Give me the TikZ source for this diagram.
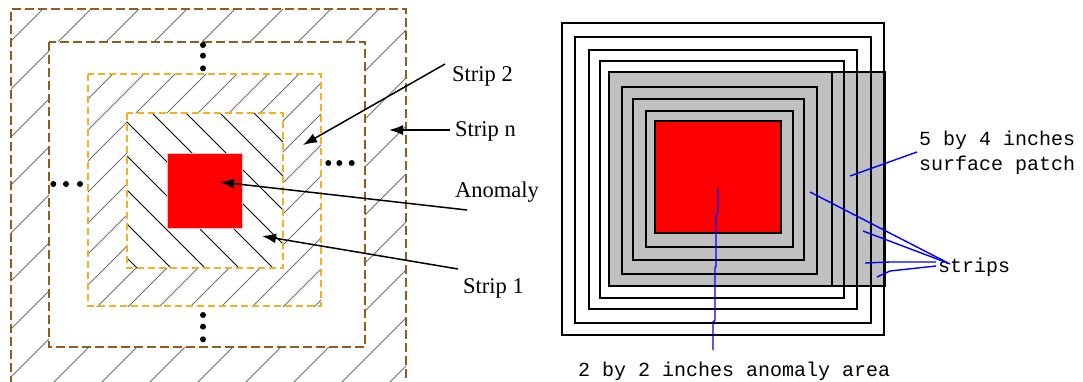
\documentclass[tikz,border=0pt]{standalone}
\usepackage{fontspec}
\setmainfont{Liberation Serif}
\setmonofont{Liberation Mono}
\usetikzlibrary{arrows.meta}
\definecolor{brownline}{HTML}{945A1E}
\definecolor{orangeline}{HTML}{F2B21E}
\definecolor{patchgray}{HTML}{C0C0C0}
\definecolor{hatchgray}{HTML}{707070}
\begin{document}
\begin{tikzpicture}[x=1pt,y=-1pt,
 brownbox/.style={draw=brownline, line width=2pt, dash pattern=on 9pt off 4pt},
 orangebox/.style={draw=orangeline, line width=2.2pt, dash pattern=on 7pt off 4pt},
 hatchA/.style={hatchgray, line width=0.8pt},
 hatchB/.style={black, line width=1pt},
 arr/.style={line width=1.5pt, -{Latex[length=14pt,width=10pt]}},
 lbl/.style={font=\fontsize{22.5}{26}\selectfont, inner sep=0pt, anchor=base west},
 mono/.style={font=\ttfamily\fontsize{20}{24}\selectfont, inner sep=0pt, anchor=base west},
 blueptr/.style={draw=blue, line width=1.4pt},
 frame/.style={draw=black, line width=1.8pt},
 dot/.style={circle, fill=black, inner sep=0pt, minimum size=6pt}]

\useasboundingbox (0,0) rectangle (1083,381);
\fill[white] (0,0) rectangle (1083,381);

% ---------------- left picture ----------------
\begin{scope}
\clip (11,9) rectangle (406,390);
\foreach \c in {52,100,...,820} \draw[hatchA] (\c,0) -- (\c-400,400);
\end{scope}
\fill[white] (49,42) rectangle (365,347);
\begin{scope}
\clip (88,74) rectangle (321,306);
\foreach \c in {156,187,...,640} \draw[hatchA] (\c,0) -- (\c-400,400);
\end{scope}
\fill[white] (127,113) rectangle (283,268);
\begin{scope}
\clip (127,113) rectangle (283,268);
\foreach \c in {-131,-97,...,175} \draw[hatchB] (\c,0) -- (\c+400,400);
\end{scope}

\draw[brownbox] (11,385) -- (11,9) -- (406,9) -- (406,385);
\draw[brownbox] (49,42) rectangle (365,347);
\draw[orangebox] (88,74) rectangle (321,306);
\draw[orangebox] (127,113) rectangle (283,268);

\node (anom) [draw=red!25, fill=red, line width=0.8pt, minimum width=75pt, minimum height=75pt, inner sep=0pt] at (204.5,190.5) {};

\node (dt1) [dot] at (203,45) {};
\node (dt2) [dot] at (203,55.7) {};
\node (dt3) [dot] at (203,68.3) {};
\node (db1) [dot] at (203,315) {};
\node (db2) [dot] at (203,326.7) {};
\node (db3) [dot] at (203,339.3) {};
\node (dl1) [dot] at (53.3,184) {};
\node (dl2) [dot] at (66,184) {};
\node (dl3) [dot] at (80,184) {};
\node (dr1) [dot] at (328.3,163) {};
\node (dr2) [dot] at (339.3,163) {};
\node (dr3) [dot] at (351.7,163) {};

\node (ls2) [lbl] at (452,81) {Strip 2};
\node (lsn) [lbl] at (455,136) {Strip n};
\node (lan) [lbl] at (455,197) {Anomaly};
\node (ls1) [lbl] at (463,293) {Strip 1};

\coordinate (s2a) at (445,64);   \coordinate (s2b) at (303,145);
\coordinate (sna) at (450,130);  \coordinate (snb) at (389,130);
\coordinate (ana) at (467,210);  \coordinate (anb) at (220,182);
\coordinate (s1a) at (458,269);  \coordinate (s1b) at (262,236);
\draw[arr] (s2a) -- (s2b);
\draw[arr] (sna) -- (snb);
\draw[arr] (ana) -- (anb);
\draw[arr] (s1a) -- (s1b);

% ---------------- right picture ----------------
\fill[patchgray] (609,72) rectangle (885,286);
\draw[frame] (562,23) rectangle (884,335);
\draw[frame] (575,37) rectangle (871,323);
\draw[frame] (589,50) rectangle (857,309);
\draw[frame] (600,61) rectangle (844,298);
\draw[frame] (609,72) rectangle (885,286);
\draw[frame] (609,72) rectangle (832,286);
\draw[frame] (622,87) rectangle (817,274);
\draw[frame] (633,99) rectangle (804,260);
\draw[frame] (646,111) rectangle (793,247);
\node (area) [draw=black, line width=1.8pt, fill=red, minimum width=126pt, minimum height=112pt, inner sep=0pt] at (718,177) {};

\node (tpatch1) [mono] at (919,145) {5 by 4 inches};
\node (tpatch2) [mono] at (919,170) {surface patch};
\node (tstrips) [mono] at (938,272) {strips};
\node (tarea) [mono] at (578,376) {2 by 2 inches anomaly area};

\coordinate (pa) at (917,152); \coordinate (pb) at (850,176);
\draw[blueptr] (pa) -- (pb);
\coordinate (st0) at (950,264);
\coordinate (st1) at (810,192);
\coordinate (st2) at (863,231);
\coordinate (st3) at (865,263);
\coordinate (st4) at (877,277);
\draw[blueptr] (st0) -- (st1);
\draw[blueptr] (945,262) -- (st2);
\draw[blueptr] (936,262) -- (890,262) -- (st3);
\draw[blueptr] (936,266) -- (890,271) -- (st4);
\coordinate (aa) at (713,350);
\draw[blueptr] (aa) -- (713,322) -- (715,320) -- (715,268) -- (716,266) -- (716,215) -- (718,213) -- (718,188);
\end{tikzpicture}
\end{document}
